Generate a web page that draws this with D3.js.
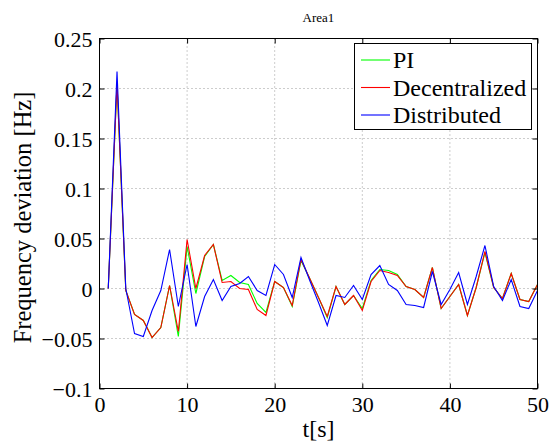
<!DOCTYPE html>
<html>
<head>
<meta charset="utf-8">
<script src="https://cdn.jsdelivr.net/npm/d3@7"></script>
<style>
  html, body { margin: 0; padding: 0; background: #fff; }
  svg { display: block; }
  svg text { font-family: "Liberation Serif", "Times New Roman", serif !important; }
</style>
</head>
<body>
<svg id="chart" width="559" height="446"></svg>
<script>
const times = [1,2,3,4,5,6,7,8,9,10,11,12,13,14,15,16,17,18,19,20,21,22,23,24,25,26,27,28,29,30,31,32,33,34,35,36,37,38,39,40,41,42,43,44,45,46,47,48,49,50];

const piValues = [0,0.205,-0.002,-0.026,-0.032,-0.049,-0.039,0.003,-0.048,0.042,
  -0.005,0.032,0.044,0.008,0.013,0.006,0.004,-0.015,-0.024,0.007,
  0.001,-0.018,0.028,0.010,-0.009,-0.029,0.002,-0.016,-0.007,-0.020,
  0.008,0.019,0.018,0.014,0.002,-0.001,-0.009,0.021,-0.020,-0.008,
  0.004,-0.027,0.001,0.036,0.001,-0.010,0.015,-0.011,-0.013,0.004];

const decentralizedValues = [0,0.205,-0.002,-0.026,-0.032,-0.049,-0.039,0.003,-0.043,0.049,
  0,0.033,0.044,0.006,0.007,0,-0.001,-0.021,-0.027,0.007,
  0.001,-0.017,0.029,0.010,-0.009,-0.028,0.002,-0.016,-0.007,-0.022,
  0.007,0.018,0.016,0.013,0.002,-0.001,-0.009,0.021,-0.020,-0.008,
  0.004,-0.027,0.001,0.037,0.001,-0.010,0.015,-0.011,-0.013,0.004];

const distributedValues = [0,0.217,0,-0.045,-0.048,-0.022,-0.002,0.039,-0.018,0.024,
  -0.038,-0.008,0.009,-0.012,0.002,0.005,0.012,-0.002,-0.007,0.024,
  0.014,-0.009,0.031,0.008,-0.014,-0.037,-0.007,-0.009,0.003,-0.011,
  0.014,0.023,0.004,-0.002,-0.016,-0.017,-0.019,0.017,-0.016,-0.001,
  0.016,-0.016,0.012,0.043,0.002,-0.012,0.009,-0.018,-0.020,-0.002];

const seriesNames = ["PI", "Decentralized", "Distributed"];
const seriesColors = ["#00ff00", "#ff0000", "#0000ff"];
const xTicks = [0,10,20,30,40,50];
const yTicks = [-0.1,-0.05,0,0.05,0.1,0.15,0.2,0.25];
const yTickLabels = ["\u22120.1","\u22120.05","0","0.05","0.1","0.15","0.2","0.25"];
const titleText = "Area1";
const xLabelText = "t[s]";
const yLabelText = "Frequency deviation [Hz]";

(function () {
const FONT = "'Liberation Serif', 'Times New Roman', serif";
const svg = d3.select("#chart").style("font-family", FONT);
const pLeft = 99.5, pRight = 537.5, pTop = 38.5, pBottom = 388.5;

const x = d3.scaleLinear().domain([0, 50]).range([pLeft, pRight]);
const y = d3.scaleLinear().domain([-0.1, 0.25]).range([pBottom, pTop]);

// grid
const grid = svg.append("g");
grid.selectAll(".gx").data(xTicks.slice(1, -1)).enter().append("line")
  .attr("x1", d => x(d)).attr("x2", d => x(d))
  .attr("y1", pTop).attr("y2", pBottom)
  .attr("stroke", "#9a9a9a").attr("stroke-width", 1).attr("stroke-dasharray", "1,3");
grid.selectAll(".gy").data(yTicks.slice(1, -1)).enter().append("line")
  .attr("x1", pLeft).attr("x2", pRight)
  .attr("y1", d => y(d)).attr("y2", d => y(d))
  .attr("stroke", "#9a9a9a").attr("stroke-width", 1).attr("stroke-dasharray", "1,3");

// series
const allValues = [piValues, decentralizedValues, distributedValues];
const line = d3.line().x((d, i) => x(times[i])).y(d => y(d));
allValues.forEach((vals, k) => {
  svg.append("path").datum(vals)
    .attr("d", line)
    .attr("fill", "none")
    .attr("stroke", seriesColors[k])
    .attr("stroke-width", 1.1)
    .attr("stroke-linejoin", "miter");
});

// axes (ticks inward)
const tickLen = 5;
const xAxisB = d3.axisBottom(x).tickValues(xTicks).tickSizeInner(-tickLen).tickSizeOuter(0).tickPadding(8).tickFormat(d3.format("d"));
const xAxisT = d3.axisTop(x).tickValues(xTicks).tickSizeInner(-tickLen).tickSizeOuter(0).tickFormat("");
const yAxisL = d3.axisLeft(y).tickValues(yTicks).tickSizeInner(-tickLen).tickSizeOuter(0).tickPadding(7)
  .tickFormat((d, i) => yTickLabels[i]);
const yAxisR = d3.axisRight(y).tickValues(yTicks).tickSizeInner(-tickLen).tickSizeOuter(0).tickFormat("");

function styleAxis(g) {
  g.attr("font-family", FONT).style("font-family", FONT).attr("font-size", 22);
  g.select(".domain").remove();
  g.selectAll(".tick line").attr("stroke", "#000").attr("stroke-width", 1);
  g.selectAll(".tick text").attr("fill", "#000").style("font-size", "22px").style("font-family", FONT);
}
svg.append("g").attr("transform", `translate(0,${pBottom})`).call(xAxisB).call(styleAxis);
svg.append("g").attr("transform", `translate(0,${pTop})`).call(xAxisT).call(styleAxis);
svg.append("g").attr("transform", `translate(${pLeft},0)`).call(yAxisL).call(styleAxis)
  .selectAll(".tick text").attr("dy", "0.36em");
svg.append("g").attr("transform", `translate(${pRight},0)`).call(yAxisR).call(styleAxis);

// frame
svg.append("rect").attr("x", pLeft).attr("y", pTop)
  .attr("width", pRight - pLeft).attr("height", pBottom - pTop)
  .attr("fill", "none").attr("stroke", "#000").attr("stroke-width", 1);

// title & labels
svg.append("text").attr("x", (pLeft + pRight) / 2).attr("y", 22)
  .attr("text-anchor", "middle").style("font-size", "13px").text(titleText);
svg.append("text").attr("x", (pLeft + pRight) / 2).attr("y", 437)
  .attr("text-anchor", "middle").style("font-size", "24px").text(xLabelText);
svg.append("text")
  .attr("transform", `translate(31,${(pTop + pBottom) / 2 + 4}) rotate(-90)`)
  .attr("text-anchor", "middle").style("font-size", "24.5px").text(yLabelText);

// legend
const lg = svg.append("g");
lg.append("rect").attr("x", 354.5).attr("y", 43.5).attr("width", 177).attr("height", 86)
  .attr("fill", "#fff").attr("stroke", "#000").attr("stroke-width", 1);
seriesNames.forEach((name, i) => {
  const cy = 60 + i * 27.5;
  lg.append("line").attr("x1", 361).attr("x2", 390).attr("y1", cy).attr("y2", cy)
    .attr("stroke", seriesColors[i]).attr("stroke-width", 1.1);
  lg.append("text").attr("x", 393).attr("y", cy + 8).style("font-size", "24px").text(name);
});
})();
</script>
</body>
</html>
